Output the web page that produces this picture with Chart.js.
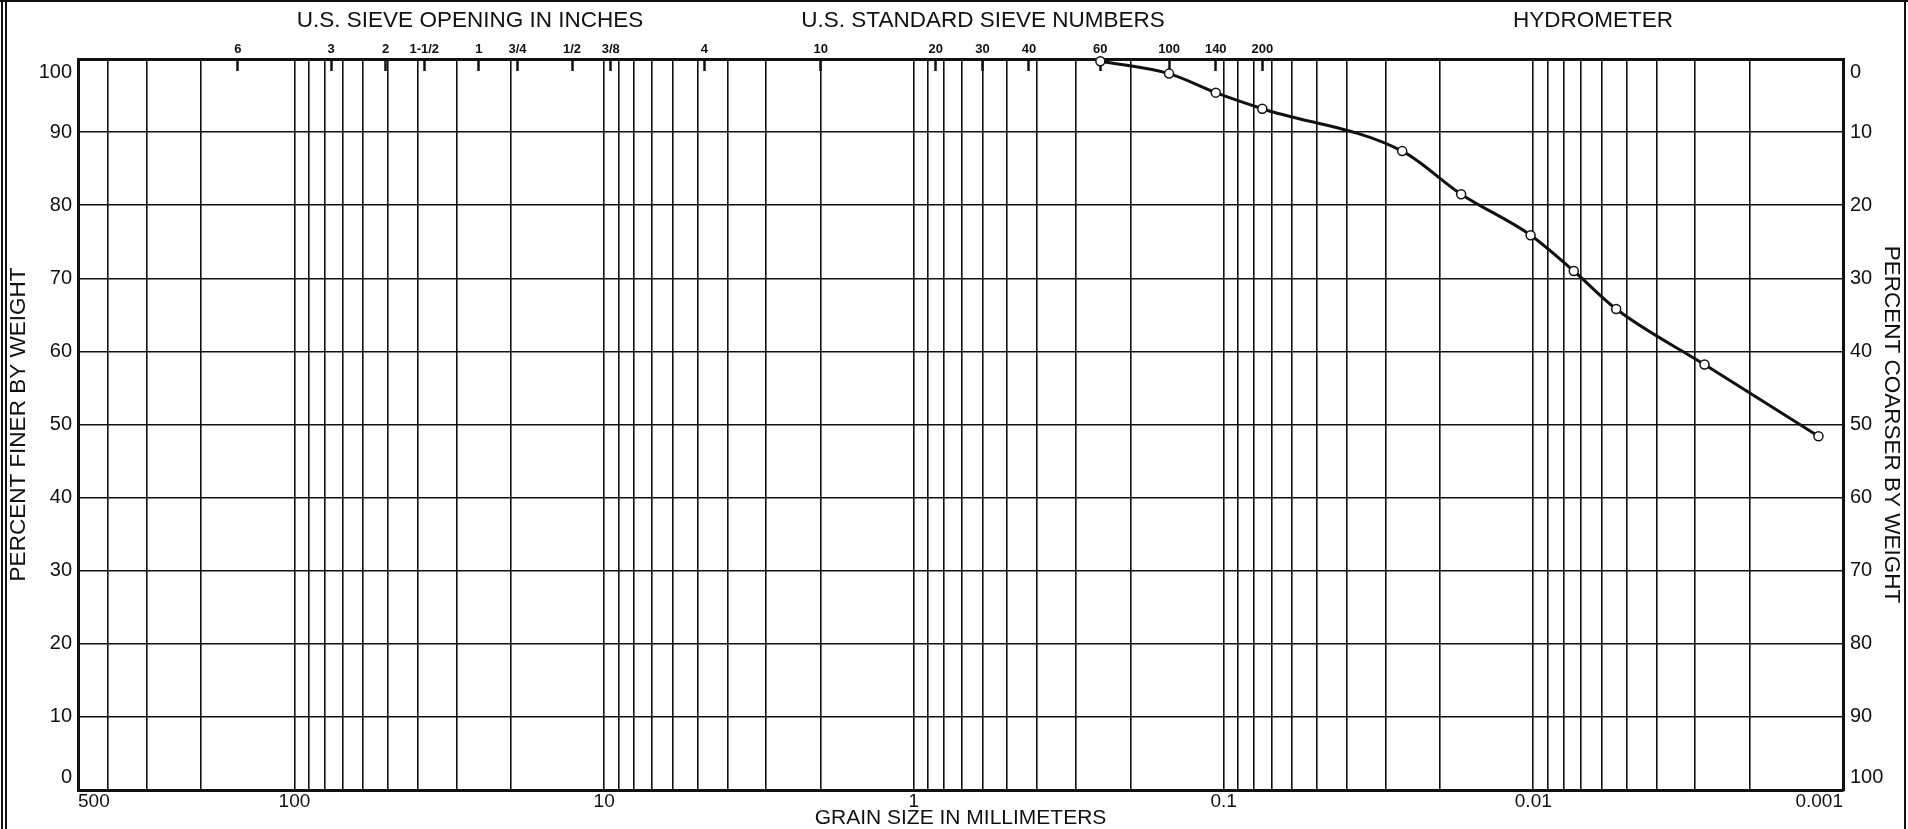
<!DOCTYPE html>
<html>
<head>
<meta charset="utf-8">
<title>Grain size distribution</title>
<script src="https://cdn.jsdelivr.net/npm/chart.js@4.4.0/dist/chart.umd.min.js"></script>
<style>
  html, body { margin: 0; padding: 0; background: #fff; }
  #wrap { position: relative; width: 1908px; height: 829px; overflow: hidden; }
  #chart { position: absolute; left: 0; top: 0; }
  .head {
    position: absolute;
    top: 7px;
    font: 22.5px "Liberation Sans", Arial, sans-serif;
    color: #111;
    transform: translateX(-50%);
    white-space: nowrap;
  }
  .frame { position: absolute; background: #111; }
</style>
</head>
<body>
<div id="wrap">
  <canvas id="chart" width="1908" height="829"></canvas>
  <div class="head" style="left:470px">U.S. SIEVE OPENING IN INCHES</div>
  <div class="head" style="left:983px">U.S. STANDARD SIEVE NUMBERS</div>
  <div class="head" style="left:1593px">HYDROMETER</div>
  <div class="frame" style="left:1px;top:0;width:2px;height:829px"></div>
  <div class="frame" style="left:5px;top:0;width:2px;height:829px"></div>
  <div class="frame" style="left:1904px;top:0;width:2px;height:829px"></div>
  <div class="frame" style="left:0;top:0;width:1908px;height:2px"></div>
</div>
<script>
// sieve openings (mm) and their names, shown along the top
const sieveSizesMm = [152.4, 76.2, 50.8, 38.1, 25.4, 19.05, 12.7, 9.525, 4.75, 2.0, 0.85, 0.6, 0.425, 0.25, 0.15, 0.106, 0.075];
const sieveLabels = ["6", "3", "2", "1-1/2", "1", "3/4", "1/2", "3/8", "4", "10", "20", "30", "40", "60", "100", "140", "200"];

// measured gradation curve
const grainSizeMm = [0.25, 0.15, 0.106, 0.075, 0.0265, 0.0171, 0.0102, 0.0074, 0.0054, 0.0028, 0.0012];
const percentFiner = [99.7, 98.0, 95.4, 93.2, 87.4, 81.5, 75.9, 71.0, 65.8, 58.2, 48.4];

// bottom axis labels
const xLabelValues = [0.001, 0.01, 0.1, 1, 10, 100, 500];
const xLabels = ["0.001", "0.01", "0.1", "1", "10", "100", "500"];

// log grid: 1..9 x 10^exp, up to 500
const gridMantissas = [1, 2, 3, 4, 5, 6, 7, 8, 9];
const gridExponents = [-3, -2, -1, 0, 1, 2];

const percentMin = 0;
const percentMax = 100;
const percentStep = 10;

const INK = "#111";
const FONT = "'Liberation Sans', Arial, sans-serif";

const gridValues = [];
gridExponents.forEach(e => {
  gridMantissas.forEach(m => {
    const v = Number((m * Math.pow(10, e)).toPrecision(3));
    if (v <= 500) gridValues.push(v);
  });
});

function xLabelFor(value) {
  const i = xLabelValues.findIndex(v => Math.abs(v - value) / v < 1e-6);
  return i >= 0 ? xLabels[i] : "";
}

const ctx = document.getElementById("chart");

new Chart(ctx, {
  type: "line",
  data: {
    datasets: [
      {
        data: grainSizeMm.map((x, i) => ({ x: x, y: percentFiner[i] })),
        borderColor: INK,
        borderWidth: 3,
        cubicInterpolationMode: "monotone",
        pointRadius: 4.5,
        pointBackgroundColor: "#fff",
        pointBorderColor: INK,
        pointBorderWidth: 1.5,
        clip: false,
        xAxisID: "x",
        yAxisID: "y"
      }
    ]
  },
  options: {
    responsive: false,
    animation: false,
    layout: { padding: 0 },
    plugins: {
      legend: { display: false },
      tooltip: { enabled: false }
    },
    scales: {
      x: {
        type: "logarithmic",
        position: "bottom",
        min: 0.001,
        max: 500,
        reverse: true,
        afterBuildTicks: scale => {
          scale.ticks = gridValues.map(v => ({ value: v }));
        },
        afterFit: scale => { scale.height = 39; },
        ticks: {
          autoSkip: false,
          maxRotation: 0,
          align: "inner",
          padding: 2,
          color: INK,
          font: { family: FONT, size: 19, lineHeight: 1 },
          callback: value => xLabelFor(value)
        },
        grid: { color: INK, lineWidth: 1.6, drawTicks: false },
        border: { color: INK, width: 3 },
        title: {
          display: true,
          text: "GRAIN SIZE IN MILLIMETERS",
          color: INK,
          font: { family: FONT, size: 21, lineHeight: 1 },
          padding: { top: 0, bottom: 0 }
        }
      },
      x2: {
        type: "logarithmic",
        axis: "x",
        position: "top",
        min: 0.001,
        max: 500,
        reverse: true,
        afterBuildTicks: scale => {
          scale.ticks = sieveSizesMm.map(v => ({ value: v }));
        },
        afterFit: scale => { scale.height = 59; },
        ticks: {
          autoSkip: false,
          maxRotation: 0,
          padding: 14,
          color: INK,
          font: { family: FONT, size: 13, weight: "bold" },
          callback: (value, index) => sieveLabels[index]
        },
        grid: {
          drawOnChartArea: false,
          drawTicks: true,
          tickLength: -12,
          tickWidth: 2.5,
          tickColor: INK
        },
        border: { color: INK, width: 3 }
      },
      y: {
        type: "linear",
        position: "left",
        min: percentMin,
        max: percentMax,
        afterFit: scale => { scale.width = 78; },
        ticks: {
          stepSize: percentStep,
          padding: 6,
          color: INK,
          font: { family: FONT, size: 20, lineHeight: 1.3 },
          callback: v => (v === percentMax ? ["", String(v)] : v === percentMin ? [String(v), ""] : String(v))
        },
        grid: { color: INK, lineWidth: 1.6, drawTicks: false },
        border: { color: INK, width: 3 },
        title: {
          display: true,
          text: "PERCENT FINER BY WEIGHT",
          color: INK,
          font: { family: FONT, size: 22.5, lineHeight: 1 },
          padding: { top: 8, bottom: 0 }
        }
      },
      y2: {
        type: "linear",
        position: "right",
        min: percentMin,
        max: percentMax,
        reverse: true,
        afterFit: scale => { scale.width = 65; },
        ticks: {
          stepSize: percentStep,
          padding: 7,
          color: INK,
          font: { family: FONT, size: 20, lineHeight: 1.3 },
          callback: v => (v === percentMin ? ["", String(v)] : v === percentMax ? [String(v), ""] : String(v))
        },
        grid: { drawOnChartArea: false, drawTicks: false },
        border: { color: INK, width: 3 },
        title: {
          display: true,
          text: "PERCENT COARSER BY WEIGHT",
          color: INK,
          font: { family: FONT, size: 22.5, lineHeight: 1 },
          padding: { top: 6, bottom: 0 }
        }
      }
    }
  }
});
</script>
</body>
</html>
